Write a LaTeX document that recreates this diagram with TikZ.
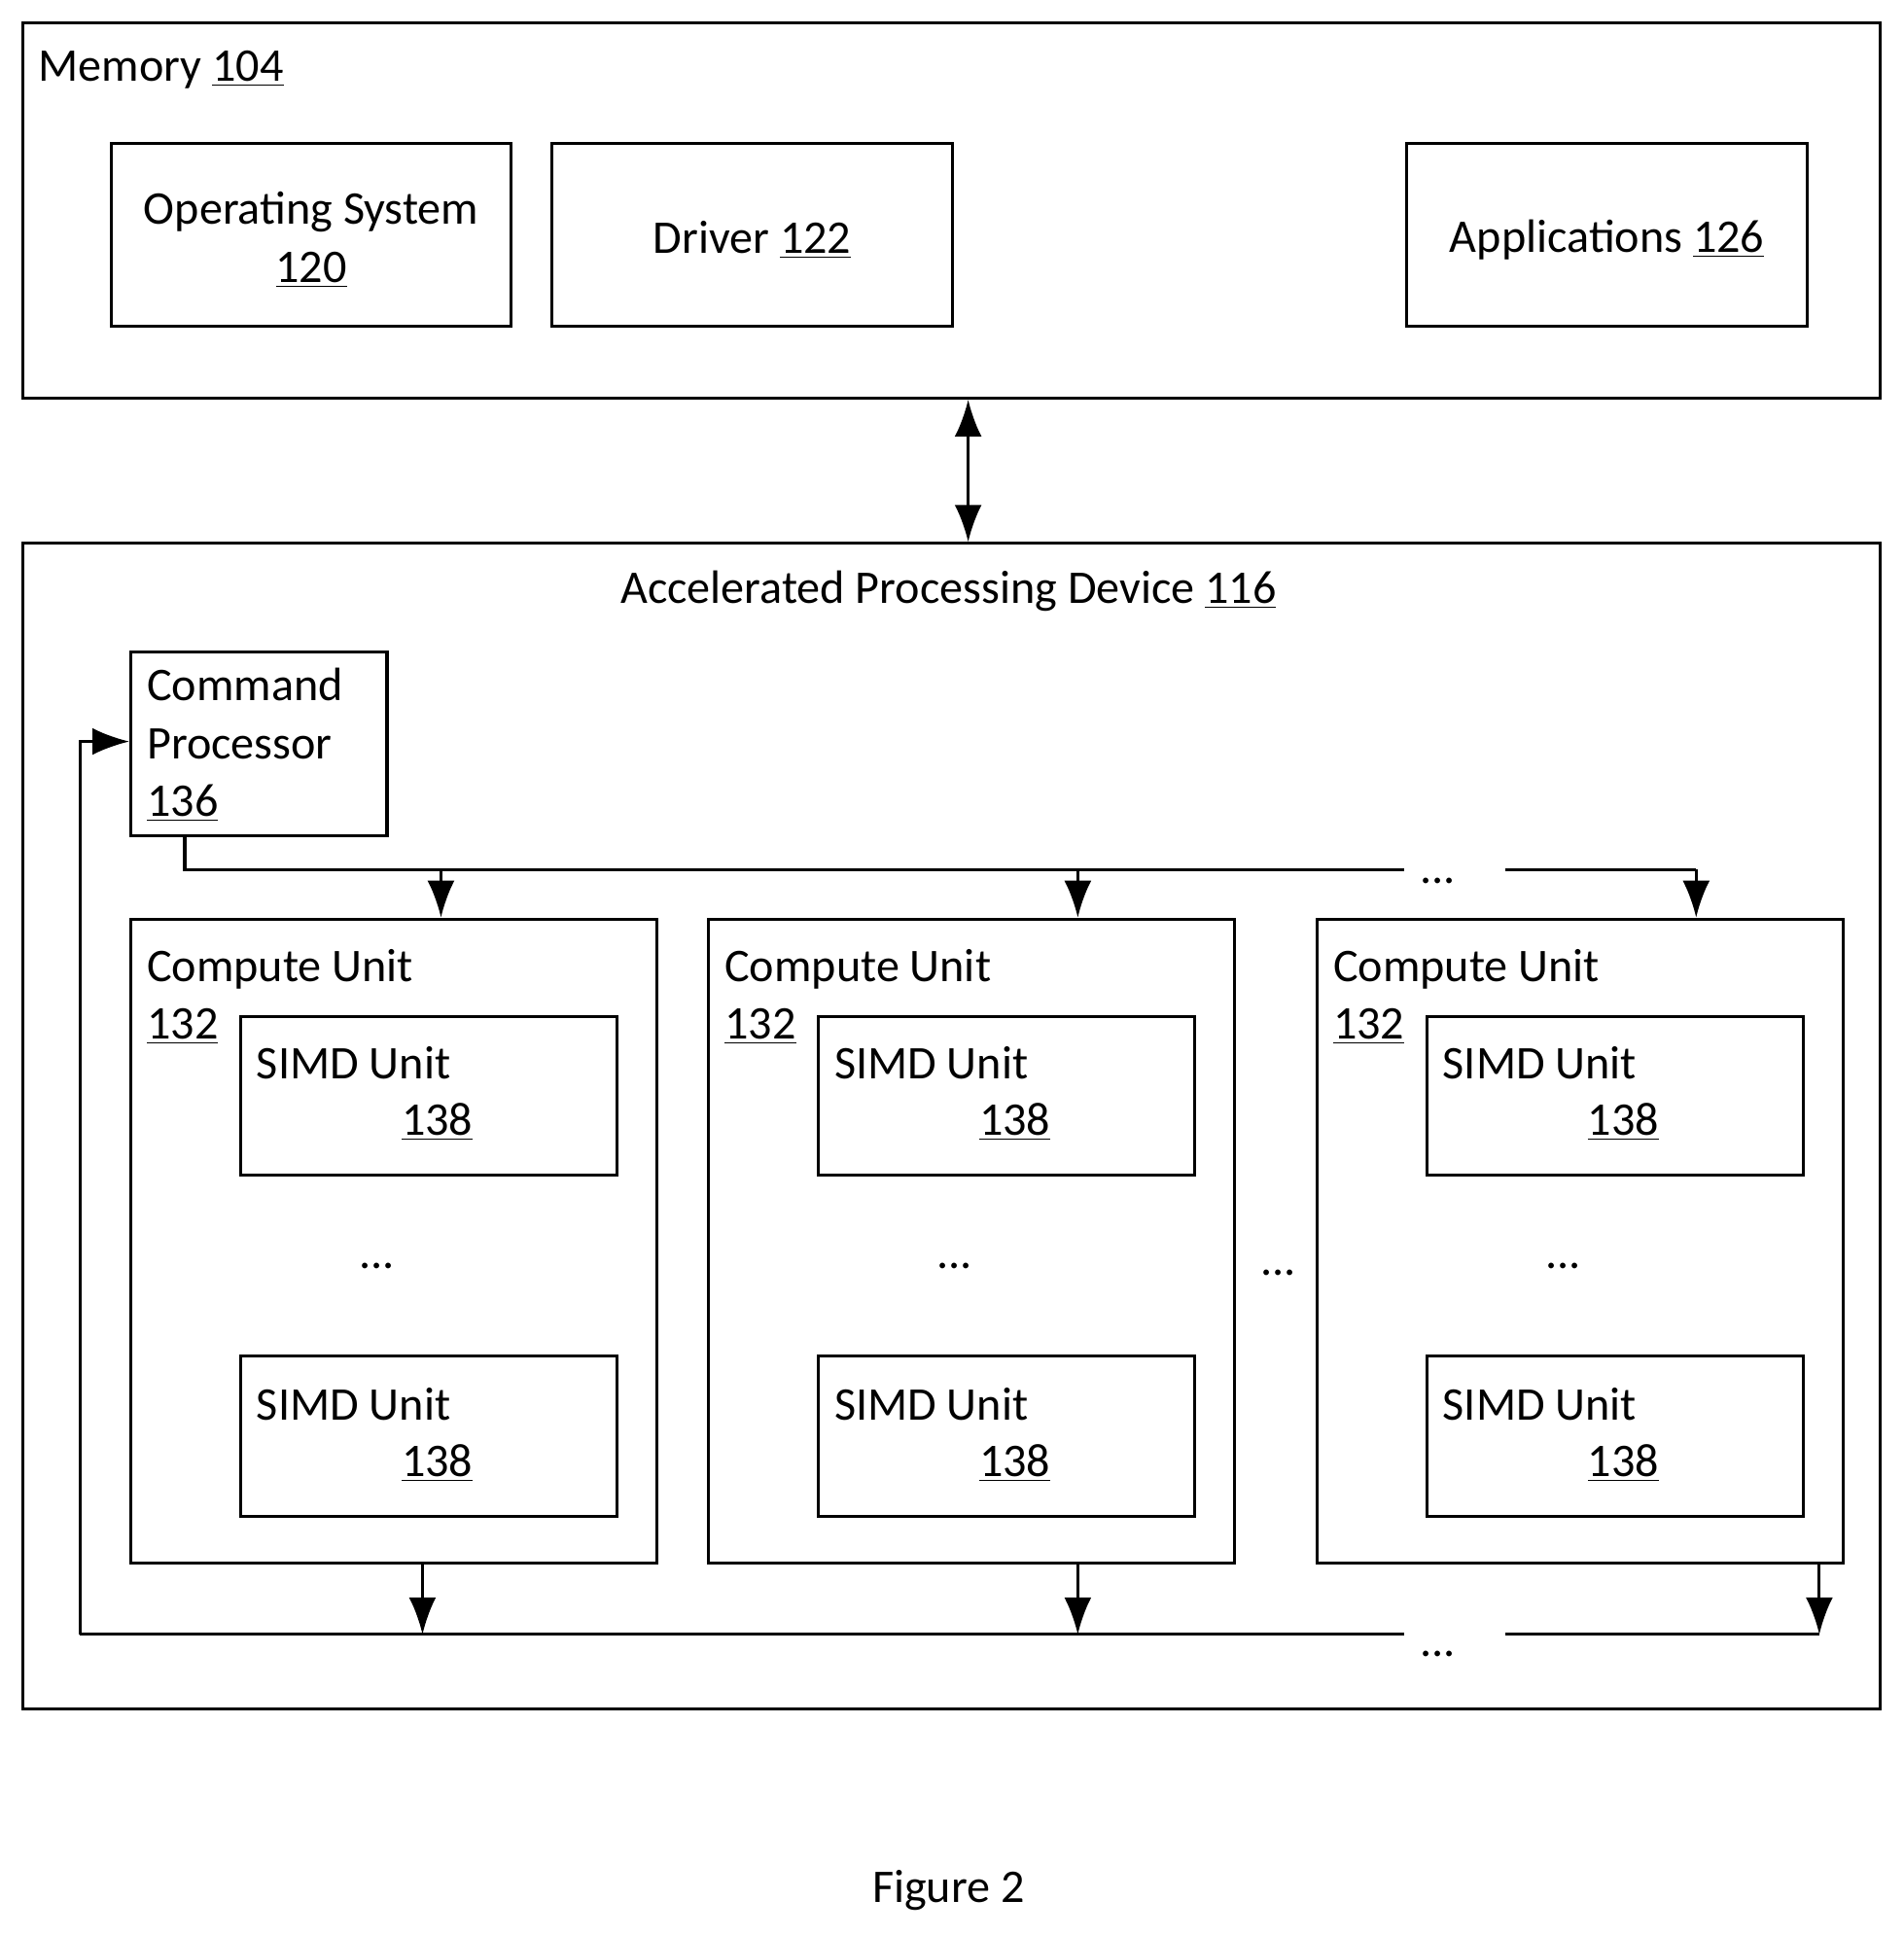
\documentclass[tikz,border=0pt]{standalone}
\usepackage{fontspec}
\setmainfont{Carlito}
\usetikzlibrary{arrows.meta,positioning}
\tikzset{
  blk/.style={draw,line width=1.2pt,inner sep=0pt,anchor=north west},
  lbl/.style={font=\fontsize{19}{23.5}\selectfont,inner sep=0pt},
  arr/.style={line width=1.2pt,-{Latex[length=15pt,width=11pt]}},
  bus/.style={line width=1.2pt}
}
\newcommand{\un}[1]{\underline{#1}}
\begin{document}
\begin{tikzpicture}[x=0.5pt,y=-0.5pt]
\useasboundingbox (0,0) rectangle (1545,1571);

% Memory
\node[blk,minimum width=754pt,minimum height=152.5pt] (mem) at (17,17) {};
\node[lbl,anchor=west] (memlbl) at (31,57) {Memory \un{104}};
\node[blk,minimum width=162.5pt,minimum height=74.5pt] (os) at (89,115) {};
\node[lbl,align=center] at ([yshift=-2pt]os.center) {Operating System\\\un{120}};
\node[blk,minimum width=162.5pt,minimum height=74.5pt] (drv) at (447,115) {};
\node[lbl] at ([yshift=-2pt]drv.center) {Driver \un{122}};
\node[blk,minimum width=162.5pt,minimum height=74.5pt] (app) at (1141,115) {};
\node[lbl] at ([yshift=-2pt]app.center) {Applications \un{126}};

% Accelerated Processing Device
\node[blk,minimum width=754pt,minimum height=473pt] (apd) at (17,440) {};
\node[lbl] (apdlbl) at (770,480) {Accelerated Processing Device \un{116}};
\draw[line width=1.2pt,{Latex[length=15pt,width=11pt]}-{Latex[length=15pt,width=11pt]}] (mem.south -| 786,0) -- (apd.north -| 786,0);

% Command Processor
\node[blk,minimum width=104pt,minimum height=74.5pt] (cp) at (105,528) {};
\node[lbl,align=left,anchor=north west] at (119,542) {Command\\Processor\\\un{136}};

% Compute Units
\foreach \i/\x in {1/105,2/574,3/1068}{
  \node[blk,minimum width=213.5pt,minimum height=261.5pt] (cu\i) at (\x,745) {};
  \node[lbl,align=left,anchor=north west] at (\x+14,770) {Compute Unit\\\un{132}};
  \node[blk,minimum width=153pt,minimum height=64.5pt] (sa\i) at (\x+89,824) {};
  \node[lbl,anchor=west] at (\x+103,863) {SIMD Unit};
  \node[lbl] at (\x+250,911) {\un{138}};
  \node[lbl] at (\x+201,1028) {...};
  \node[blk,minimum width=153pt,minimum height=65pt] (sb\i) at (\x+89,1100) {};
  \node[lbl,anchor=west] at (\x+103,1140) {SIMD Unit};
  \node[lbl] at (\x+250,1188) {\un{138}};
}
\node[lbl] (dmid) at (1038,1033) {...};

% top bus
\coordinate (t0) at (150,706);
\coordinate (t1) at (1140,706);
\coordinate (t2) at (1222,706);
\coordinate (t3) at (1377,706);
\node[lbl] (dtop) at (1167,715) {...};
\draw[bus] (cp.south -| t0) -- (t0) -- (t1);
\draw[bus] (t2) -- (t3);
\draw[arr] (358,706) -- (cu1.north -| 358,0);
\draw[arr] (875,706) -- (cu2.north -| 875,0);
\draw[arr] (t3) -- (cu3.north -| t3);

% bottom bus
\coordinate (b0) at (65,1327);
\coordinate (b1) at (1140,1327);
\coordinate (b2) at (1222,1327);
\coordinate (b3) at (1477,1327);
\node[lbl] (dbot) at (1167,1343) {...};
\draw[bus] (b0) -- (b1);
\draw[bus] (b2) -- (b3);
\draw[arr] (cu1.south -| 343,0) -- (343,1327);
\draw[arr] (cu2.south -| 875,0) -- (875,1327);
\draw[arr] (cu3.south -| b3) -- (b3);
\draw[arr] (b0) -- (65,602) -- (cp.west |- 0,602);

% caption
\node[lbl] (fig) at (770,1535) {Figure 2};
\end{tikzpicture}
\end{document}
